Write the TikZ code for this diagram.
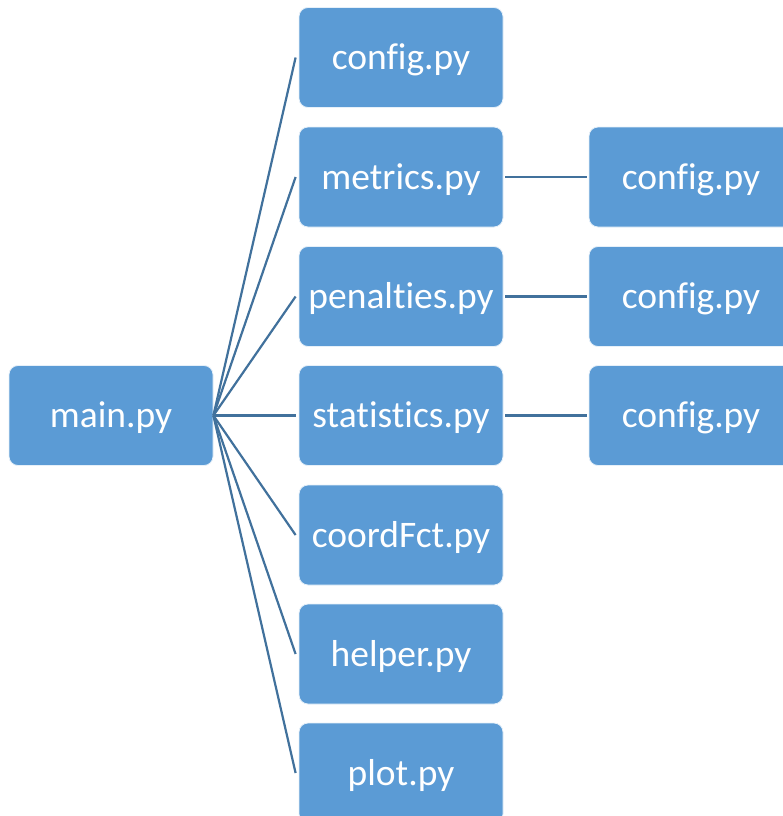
\documentclass[tikz,border=0pt]{standalone}
\usepackage{fontspec}
\setmainfont[Ligatures=NoCommon]{Carlito}
\definecolor{boxfill}{HTML}{5B9BD5}
\definecolor{linkcol}{HTML}{41719C}
\begin{document}
\begin{tikzpicture}[x=1pt,y=-1pt,
  filebox/.style={draw=white!85!boxfill, line width=0.8pt, fill=boxfill, rounded corners=9pt,
    minimum width=204pt, minimum height=100pt, inner sep=0pt,
    text height=30.4pt, text depth=6pt,
    text=white, font=\fontsize{37.5}{42}\selectfont},
  link/.style={draw=linkcol, line width=2.2pt}]
\useasboundingbox (0,0) rectangle (782,816);
\node[filebox] (main) at (111,415.5) {main.py};
\node[filebox] (m1) at (401,57.5) {config.py};
\node[filebox] (m2) at (401,177) {metrics.py};
\node[filebox] (m3) at (401,296.5) {penalties.py};
\node[filebox] (m4) at (401,415.5) {statistics.py};
\node[filebox] (m5) at (401,535) {coordFct.py};
\node[filebox] (m6) at (401,654) {helper.py};
\node[filebox] (m7) at (401,773) {plot.py};
\node[filebox] (r2) at (691,177) {config.py};
\node[filebox] (r3) at (691,296.5) {config.py};
\node[filebox] (r4) at (691,415.5) {config.py};
\foreach \m in {m1,m2,m3,m4,m5,m6,m7}
  \draw[link] (main.east) -- ([xshift=-3pt]\m.west);
\foreach \m/\r in {m2/r2,m3/r3,m4/r4}
  \draw[link] ([xshift=2pt]\m.east) -- ([xshift=-2pt]\r.west);
\end{tikzpicture}
\end{document}
